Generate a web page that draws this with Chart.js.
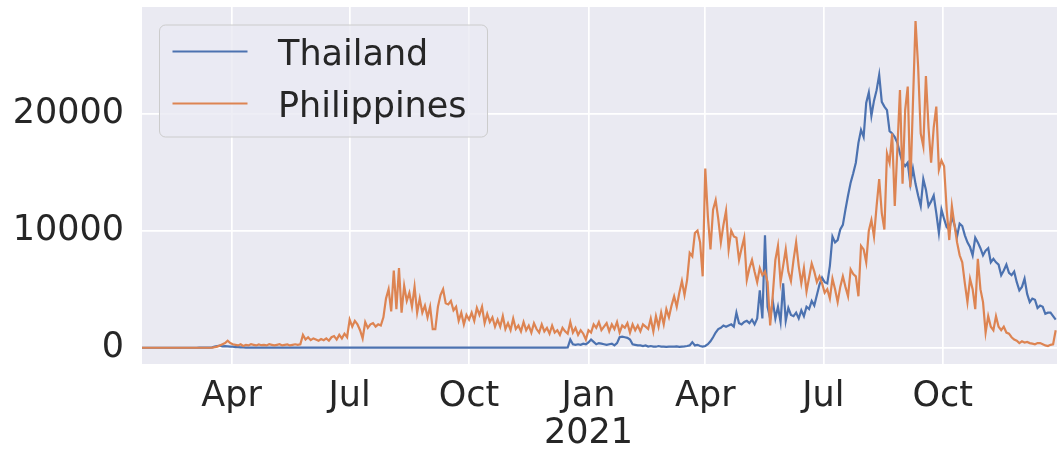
<!DOCTYPE html>
<html>
<head>
<meta charset="utf-8">
<script src="https://cdn.jsdelivr.net/npm/chart.js@4.4.1/dist/chart.umd.min.js"></script>
<style>
  html, body { margin: 0; padding: 0; background: #ffffff; }
  canvas { display: block; }
</style>
</head>
<body>
<canvas id="casesChart" width="1058" height="454"></canvas>
<script>
// daily new cases, one value every STEP days starting 2020-01-23
const STEP = 2;
const lastDay = 705;

const thailand = [
    0,0,0,0,0,0,0,0,0,0,
    0,0,0,0,0,0,0,0,0,0,
    0,0,5,5,10,10,20,30,100,150,
    180,120,140,120,100,100,60,50,30,30,
    20,15,10,10,10,5,5,5,5,5,
    5,5,10,5,5,5,10,5,5,5,
    5,5,10,5,5,5,10,5,5,10,
    5,5,10,5,5,10,5,5,5,10,
    10,5,5,10,5,5,20,10,5,5,
    10,5,5,10,5,5,5,10,5,5,
    10,5,5,10,5,5,10,5,5,10,
    5,5,10,5,5,10,5,5,10,5,
    5,10,5,5,10,5,5,10,5,5,
    10,5,5,10,5,5,10,5,10,5,
    5,10,5,5,10,5,5,10,5,5,
    10,5,5,10,5,10,5,5,10,5,
    10,5,10,10,20,700,300,250,300,250,
    350,300,450,700,500,300,400,350,300,250,
    300,350,200,400,900,950,900,850,700,300,
    250,200,200,150,200,100,150,100,90,150,
    100,100,80,100,90,100,120,80,100,120,
    150,200,480,200,250,150,100,150,300,550,
    900,1300,1600,1700,1900,1800,1900,2000,1800,3000,
    2100,2000,2200,2300,2100,2400,2000,2500,4900,2500,
    9600,3500,2500,4000,2500,3500,2200,5500,2300,3400,
    2800,2700,3000,2500,3200,2700,3500,3300,4000,3600,
    4500,5400,6000,5600,5500,7000,9500,9000,9200,10100,
    10500,11800,13000,14100,14900,15800,17500,18600,18000,20900,
    21800,19800,21100,22000,23300,21000,20600,20300,18500,18300,
    18000,17500,16600,15800,15500,15800,14000,15300,14000,13000,
    12100,14400,13500,12100,12500,13000,11500,9800,11800,11000,
    10300,10100,11200,10500,9500,10600,10400,9600,9000,8600,
    7900,9400,9000,8500,7900,8300,8500,7300,7600,7300,
    7100,6200,6600,7100,6400,6200,6500,5600,4900,5200,
    5900,4600,3900,4200,4100,3400,3600,3500,2900,3000,
    3000,2700,2400
];

const philippines = [
    0,0,0,0,0,0,0,0,0,0,
    0,0,0,0,0,0,0,0,0,0,
    0,0,0,0,0,0,0,10,50,100,
    200,300,400,600,400,300,250,200,300,150,
    250,200,300,250,200,280,220,250,200,300,
    250,200,250,300,200,250,280,200,250,300,
    250,300,1100,700,900,650,800,700,600,750,
    650,800,600,900,1000,700,1100,800,1200,900,
    2400,1800,2300,2000,1500,800,2200,1700,2000,2100,
    1800,2000,1900,2600,4200,5000,3100,6600,3300,6800,
    3000,5300,4000,4700,3500,5200,3000,4200,3000,3600,
    2600,3500,1600,1600,3500,4500,5000,3800,3700,4000,
    3200,3500,2300,3000,2000,2800,2400,3000,2300,3400,
    2800,3500,2100,2900,2200,2600,1800,2400,1800,2700,
    1600,2100,1500,2500,1600,1900,1400,2200,1500,1900,
    1300,2100,1600,1300,2000,1400,1700,1200,1900,1300,
    1500,1100,1700,1400,1200,2200,1300,1700,1100,1500,
    1200,700,1500,1300,2000,1700,2200,1500,1800,2100,
    1400,2000,1600,2200,1300,1900,1700,2100,1300,2000,
    1500,1900,1400,2000,1800,1600,2500,1400,2700,1800,
    3000,2000,3300,2600,3600,4400,3500,4700,5700,4500,
    5800,8100,7800,9800,10000,9000,6100,15300,11200,8400,
    11800,12600,11000,9000,10500,11700,8400,10000,9500,9400,
    7500,8500,9400,5800,6800,7500,6500,5600,6800,6200,
    6500,5600,1900,4500,7500,8700,5600,7000,8400,6500,
    5700,7500,9000,7000,5500,6800,4800,6000,7200,6500,
    5600,6100,5500,4700,5000,4200,5900,5000,3900,5200,
    6100,5200,4400,6700,6300,6100,4400,8700,8400,7300,
    10000,10900,9500,12100,14400,11500,10100,16600,15800,18300,
    12100,17000,22000,14000,20300,22300,13700,20900,27900,24000,
    18300,17200,23200,18800,15800,18800,20600,15200,16000,15500,
    11800,9200,12100,10500,9000,7900,7300,5500,3900,5900,
    5000,3300,7600,5000,3900,1300,2700,1800,1500,2700,
    1800,1500,1800,1300,1200,900,700,600,400,550,
    450,500,400,350,300,400,400,300,200,150,
    250,300,1500
];

// month ticks, as day offsets from 2020-01-23
const tickDays = [69, 160, 252, 344, 434, 525, 617];
const tickLabels = ['Apr', 'Jul', 'Oct', ['Jan', '2021'], 'Apr', 'Jul', 'Oct'];
const yTicks = [0, 10000, 20000];

function toPoints(values) {
    return values.map((v, i) => ({ x: i * STEP, y: v }));
}

const plotBg = {
    id: 'plotBg',
    beforeDraw(chart) {
        const { ctx, chartArea: a } = chart;
        ctx.save();
        ctx.fillStyle = '#eaeaf2';
        ctx.fillRect(a.left, a.top, a.right - a.left, a.bottom - a.top);
        ctx.restore();
    }
};

const legendBox = {
    id: 'legendBox',
    afterDatasetsDraw(chart) {
        const ctx = chart.ctx;
        const a = chart.chartArea;
        const x = a.left + 17.5, y = a.top + 18;
        ctx.save();
        ctx.beginPath();
        ctx.roundRect(x, y, 328, 112, 6);
        ctx.fillStyle = 'rgba(234,234,242,0.8)';
        ctx.fill();
        ctx.strokeStyle = '#cccccc';
        ctx.lineWidth = 1;
        ctx.stroke();
        ctx.font = '35px "DejaVu Sans"';
        ctx.textBaseline = 'alphabetic';
        chart.data.datasets.forEach((ds, i) => {
            const ly = y + 26.5 + i * 52;
            ctx.strokeStyle = ds.borderColor;
            ctx.lineWidth = 2.2;
            ctx.beginPath();
            ctx.moveTo(x + 13, ly);
            ctx.lineTo(x + 88, ly);
            ctx.stroke();
            ctx.fillStyle = '#262626';
            ctx.fillText(ds.label, x + 118.5, y + 40 + i * 52);
        });
        ctx.restore();
    }
};

// drop the padding Chart.js reserves for edge labels
function noEdgePadding(scale) {
    scale.paddingTop = 0;
    scale.paddingBottom = 0;
    scale.paddingLeft = 0;
    scale.paddingRight = 0;
}

const casesCanvas = document.getElementById('casesChart');
const casesChart = new Chart(casesCanvas, {
    type: 'line',
    data: {
        datasets: [
            {
                label: 'Thailand',
                data: toPoints(thailand),
                borderColor: '#4c72b0',
                borderWidth: 2.2,
                pointRadius: 0,
                tension: 0,
                order: 1
            },
            {
                label: 'Philippines',
                data: toPoints(philippines),
                borderColor: '#dd8452',
                borderWidth: 2.2,
                pointRadius: 0,
                tension: 0,
                order: 0
            }
        ]
    },
    options: {
        responsive: false,
        animation: false,
        layout: { padding: { top: 7, right: 1, left: 0, bottom: 0 } },
        plugins: {
            legend: { display: false },
            tooltip: { enabled: false }
        },
        scales: {
            x: {
                type: 'linear',
                min: 0,
                max: lastDay,
                afterBuildTicks: scale => { scale.ticks = tickDays.map(v => ({ value: v })); },
                afterFit: scale => { scale.height = 90; noEdgePadding(scale); },
                grid: { color: '#ffffff', lineWidth: 1.7, drawTicks: false },
                border: { display: false },
                ticks: {
                    autoSkip: false,
                    maxRotation: 0,
                    padding: 15,
                    color: '#262626',
                    font: { family: 'DejaVu Sans', size: 35, lineHeight: 1.05 },
                    callback: (value, index) => tickLabels[index]
                }
            },
            y: {
                min: -1386,
                max: 29100,
                afterBuildTicks: scale => { scale.ticks = yTicks.map(v => ({ value: v })); },
                afterFit: scale => { scale.width = 142; noEdgePadding(scale); },
                grid: { color: '#ffffff', lineWidth: 1.7, drawTicks: false },
                border: { display: false },
                ticks: {
                    padding: 18,
                    color: '#262626',
                    font: { family: 'DejaVu Sans', size: 35 },
                    callback: value => String(value)
                }
            }
        }
    },
    plugins: [plotBg, legendBox]
});
</script>
</body>
</html>
